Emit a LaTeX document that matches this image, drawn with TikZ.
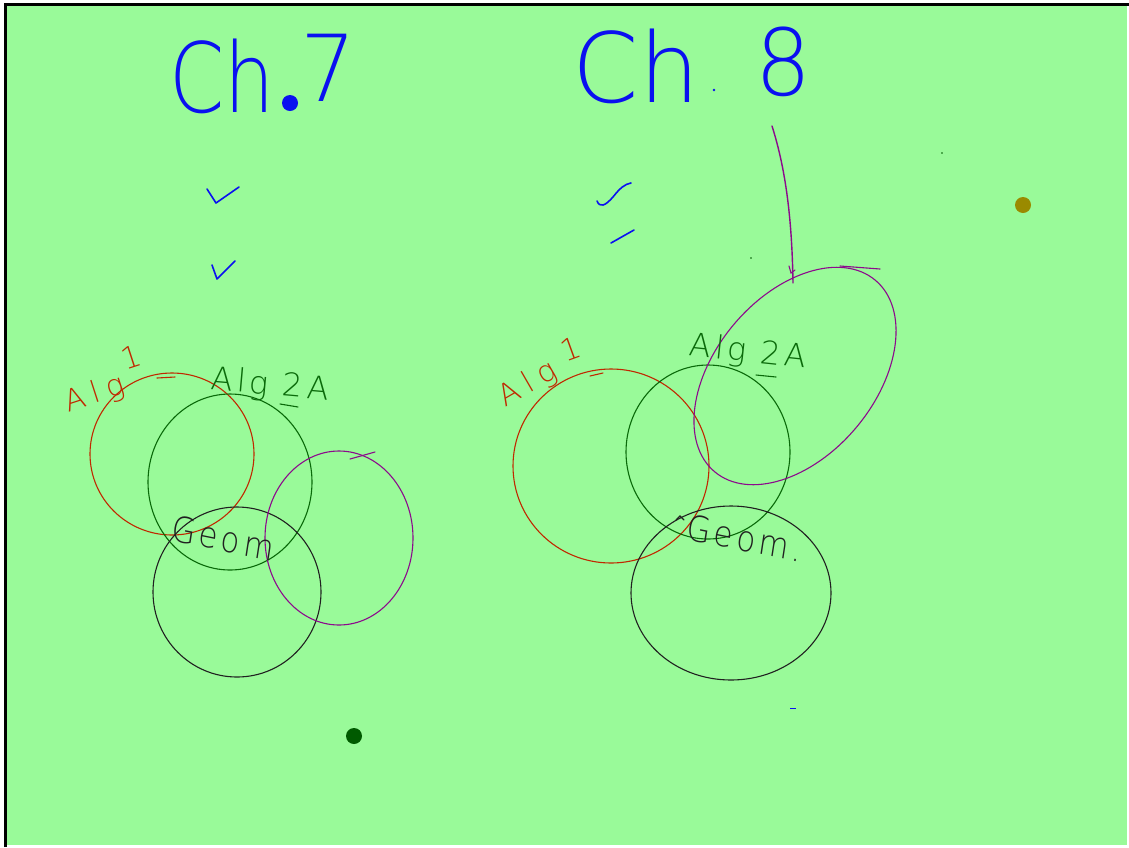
\documentclass[tikz,border=0pt]{standalone}
\usepackage{fontspec}
\newfontfamily\hand{DejaVu Sans ExtraLight}
\newfontfamily\handsp[LetterSpace=12]{DejaVu Sans ExtraLight}
\newfontfamily\handwide[LetterSpace=24]{DejaVu Sans ExtraLight}
\definecolor{board}{HTML}{99FA99}
\definecolor{bluepen}{HTML}{0A10F0}
\definecolor{redpen}{HTML}{C02800}
\definecolor{greenpen}{HTML}{0A6A0A}
\definecolor{purplepen}{HTML}{8C0A8C}
\definecolor{blackpen}{HTML}{202020}
\definecolor{olivedot}{HTML}{9A8A00}
\definecolor{darkdot}{HTML}{005A00}
\begin{document}
\begin{tikzpicture}[x=1pt,y=-1pt,
  ring/.style={line width=1.1pt},
  bigtext/.style={font=\hand\fontsize{88}{88}\selectfont, inner sep=0pt, text=bluepen},
  lbl/.style={font=\handsp\fontsize{32}{32}\selectfont, inner sep=0pt},
  redlbl/.style={font=\handwide\fontsize{30}{30}\selectfont, inner sep=0pt, text=redpen},
  geomlbl/.style={font=\handsp\fontsize{31}{31}\selectfont, inner sep=0pt, text=blackpen, yscale=1.15},
  tick/.style={draw=bluepen, line width=1.6pt, line cap=round, line join=round},
  stroke/.style={line width=1.1pt, line cap=round}]
\useasboundingbox (0,0) rectangle (1129,847);
\fill[white] (0,0) rectangle (1129,847);
\fill[board] (5,4) rectangle (1127,845);
\draw[line width=3pt] (5.5,847) -- (5.5,4.5) -- (1129,4.5);

% titles
\node[bigtext, xscale=0.9, yscale=1.1] (ch7) at (222,76) {Ch};
\fill[bluepen] (290,103) circle (8pt);
\node[bigtext, yscale=1.05] (seven) at (328,68) {7};
\node[bigtext, xscale=1.08, yscale=1.1] (ch8) at (636,66) {Ch};
\fill[bluepen] (714,90) circle (1.3pt);
\node[bigtext, yscale=1.05] (eight) at (783,62) {8};

% check marks
\draw[tick] (207,189) -- (216,203) -- (239,187);
\draw[tick] (212,265) -- (217,279) -- (235,261);
\draw[tick] (597,201) .. controls (600,208) and (605,206) .. (613,197) .. controls (620,188) and (625,184) .. (631,183);
\draw[tick] (611,243) -- (634,230);

% small marks
\fill[olivedot] (1023,205) circle (8pt);
\fill[darkdot] (354,736) circle (8pt);
\fill[darkdot] (942,153) circle (0.8pt);
\fill[darkdot] (751,258) circle (0.8pt);
\draw[bluepen, line width=1pt] (790,708) -- (796,708);

% left cluster
\draw[ring, redpen] (172,454) ellipse [x radius=82pt, y radius=81pt];
\draw[ring, greenpen] (230,482) ellipse [x radius=82pt, y radius=88pt];
\draw[ring, blackpen] (237,592) ellipse [x radius=84pt, y radius=85pt];
\draw[ring, purplepen] (339,538) ellipse [x radius=74pt, y radius=87pt];
\draw[stroke, redpen] (157,378) -- (175,377);
\draw[stroke, greenpen] (280,404) -- (298,407);
\draw[stroke, purplepen] (350,459) -- (375,452);
\node[redlbl, rotate=18] (alg1a) at (95,395) {Alg};
\node[redlbl, rotate=18] (onea) at (131,357) {1};
\node[lbl, text=greenpen, rotate=-5] (alg2a) at (270,386) {Alg 2A};
\node[geomlbl, rotate=-10] (geoma) at (223,538) {Geom};

% right cluster
\draw[ring, redpen] (611,466) ellipse [x radius=98pt, y radius=97pt];
\draw[ring, greenpen] (708,452) ellipse [x radius=82pt, y radius=87pt];
\draw[ring, blackpen] (731,593) ellipse [x radius=100pt, y radius=87pt];
\draw[ring, purplepen, rotate around={50:(795,376)}] (795,376) ellipse [x radius=125pt, y radius=80pt];
\draw[stroke, redpen] (590,376) -- (603,373);
\draw[stroke, greenpen] (756,375) -- (776,377);
\draw[stroke, purplepen] (840,266) -- (880,269);
\draw[stroke, blackpen] (676,520) -- (680,516) -- (684,520);
\node[redlbl, rotate=30] (alg1b) at (528,385) {Alg};
\node[redlbl, rotate=20] (oneb) at (571,349) {1};
\node[lbl, text=greenpen, rotate=-6] (alg2b) at (748,353) {Alg 2A};
\node[geomlbl, rotate=-10] (geomb) at (745,538) {Geom.};

% purple arrow line
\coordinate (ptop) at (772,126);
\coordinate (pend) at (793,283);
\draw[stroke, purplepen, line width=1.4pt] (ptop) .. controls (786,170) and (792,220) .. (pend);
\draw[stroke, purplepen] (789,266) -- (791,273) -- (795,270);
\end{tikzpicture}
\end{document}
